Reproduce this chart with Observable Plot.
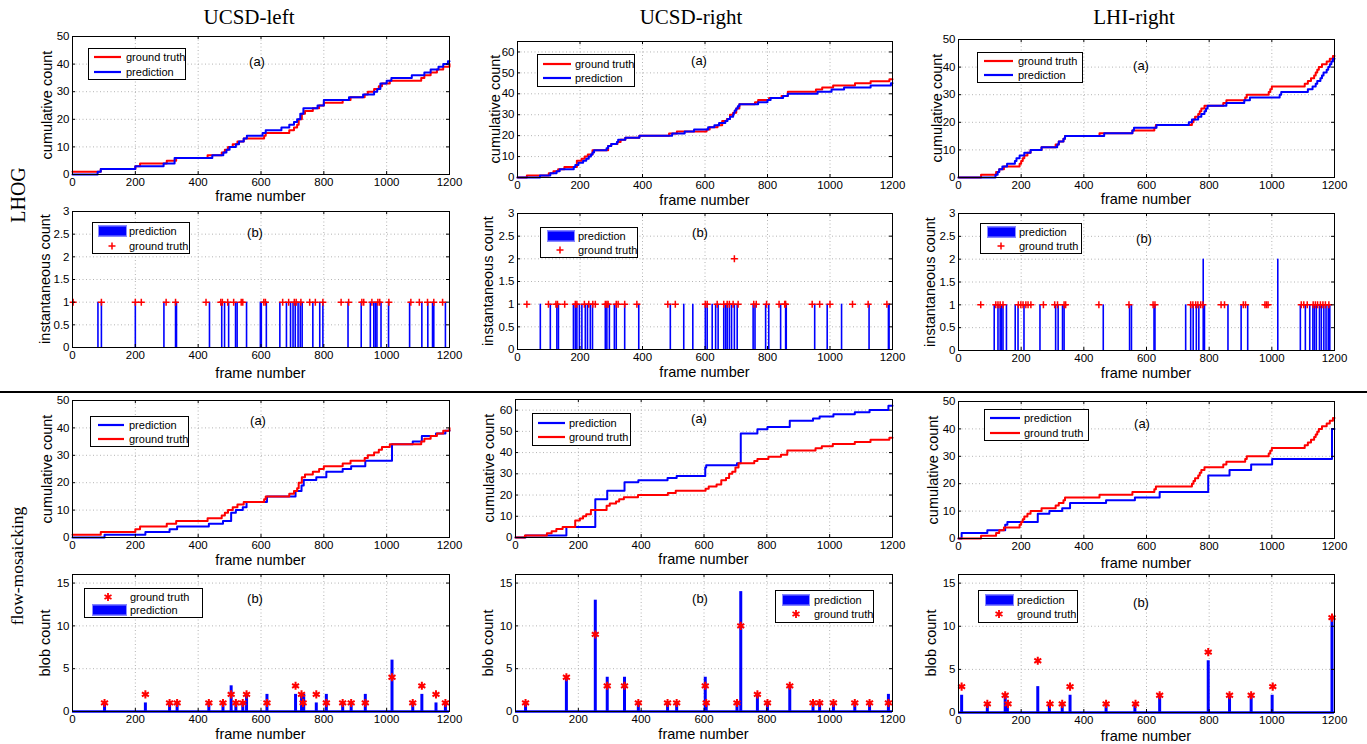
<!DOCTYPE html>
<html>
<head>
<meta charset="utf-8">
<script src="https://cdn.jsdelivr.net/npm/d3@7"></script>
<script src="https://cdn.jsdelivr.net/npm/@observablehq/plot@0.6"></script>
<style>
  html, body { margin: 0; padding: 0; background: #fff; }
  #fig { position: relative; width: 1367px; height: 744px; overflow: hidden;
         font-family: "Liberation Sans", Arial, sans-serif; color: #000; }
  .t { position: absolute; white-space: nowrap; line-height: 1; }
  .title { font-family: "Liberation Serif", "Times New Roman", serif; font-size: 21px; transform: translate(-50%, -50%); }
  .rowlabel { font-family: "Liberation Serif", "Times New Roman", serif; font-size: 20px; transform: translate(-50%, -50%) rotate(-90deg); }
  .rowlabel.small { font-size: 17.5px; }
  .ylab { font-size: 14.5px; transform: translate(-50%, -50%) rotate(-90deg); }
  .xlab { font-size: 14.5px; transform: translate(-50%, -50%); }
  .tag { font-size: 13px; transform: translate(-50%, -50%); }
  .legend { position: absolute; box-sizing: border-box; border: 1px solid #000; background: #fff; font-size: 11px; }
  .legend .lt { position: absolute; white-space: nowrap; transform: translateY(-50%); line-height: 1; }
  .legend svg, .legend .bar { position: absolute; }
  .legend .bar { background: #0000ff; border: 1px solid #8c8cff; box-sizing: border-box; height: 11px; transform: translateY(-50%); }
  .divider { position: absolute; left: 0; width: 1367px; top: 391px; height: 2px; background: #000; }
</style>
</head>
<body>
<div id="fig"></div>
<script>
// ---------- axis ticks ----------
const xTicks = [0, 200, 400, 600, 800, 1000, 1200];
const cumTicks50 = [0, 10, 20, 30, 40, 50];
const cumTicks65 = [0, 10, 20, 30, 40, 50, 60];
const instTicks = [0, 0.5, 1, 1.5, 2, 2.5, 3];
const blobTicks = [0, 5, 10, 15];

// ---------- UCSD-left ----------
// cumulative ground truth (step points: frame, count)
const ucsdLeftTruthX = [0,90,200,215,300,330,430,475,485,495,510,525,545,610,615,690,705,715,720,730,740,765,785,800,860,885,930,940,960,975,985,1010,1110,1120,1140,1160,1180,1200];
const ucsdLeftTruthY = [1,2,3,4,5,6,7,8,9,10,11,12,13,14,15,16,17,18,20,22,23,24,25,26,27,28,29,30,31,32,33,34,35,36,37,38,39,40];
// cumulative LHOG prediction
const ucsdLeftLhogX = [0,80,90,200,290,325,445,480,490,500,520,530,545,555,605,615,665,690,705,715,725,735,780,800,880,925,960,970,980,1000,1015,1080,1120,1140,1165,1180,1195,1200];
const ucsdLeftLhogY = [0,1,2,3,4,6,7,8,9,10,11,12,13,14,15,16,17,18,19,20,22,24,25,27,28,29,30,31,33,34,35,36,37,38,39,40,41,41];
// instantaneous LHOG prediction
const ucsdLeftInstPredX = [81,92,200,291,328,331,436,475,484,497,519,524,554,598,601,617,660,681,694,702,709,718,725,731,765,787,797,877,919,948,959,964,969,982,1006,1073,1112,1131,1146,1150,1187];
const ucsdLeftInstPredY = [1,1,1,1,1,1,1,1,1,1,1,1,1,1,1,1,1,1,1,1,1,1,1,1,1,1,1,1,1,1,1,1,1,1,1,1,1,1,1,1,1];
// instantaneous ground truth
const ucsdLeftInstTruthX = [2,92,200,219,298,328,425,472,477,494,513,537,542,609,614,669,688,706,712,727,755,773,797,855,879,921,927,953,972,978,1007,1077,1104,1130,1150,1178];
const ucsdLeftInstTruthY = [1,1,1,1,1,1,1,1,1,1,1,1,1,1,1,1,1,1,1,1,1,1,1,1,1,1,1,1,1,1,1,1,1,1,1,1];
// flow-mosaicking blob counts
const ucsdLeftBlobPredX = [102,232,309,333,434,479,505,520,542,554,619,710,729,736,776,808,860,887,932,1017,1083,1112,1157,1187];
const ucsdLeftBlobPred  = [1,1,1,1,1,1,3,1,1,2,2,2,2,2,1,2,1,1,2,6,1,2,1,1];
const ucsdLeftBlobTruthX = [102,232,309,333,434,479,505,520,542,554,619,710,729,734,776,808,860,887,932,1017,1083,1112,1157,1187];
const ucsdLeftBlobTruth  = [1,2,1,1,1,1,2,1,1,2,1,3,2,1,2,1,1,1,1,4,1,3,2,1];

// ---------- UCSD-right ----------
const ucsdRightTruthX = [0,30,100,115,130,150,190,205,215,225,240,290,300,320,330,345,390,485,510,605,615,640,655,670,680,690,700,710,760,770,805,845,865,955,975,1010,1080,1130,1190,1200];
const ucsdRightTruthY = [0,1,2,3,4,5,8,9,10,11,13,15,16,17,18,19,20,21,22,23,24,25,27,28,30,31,33,35,36,37,38,39,41,42,43,44,45,46,47,47];
const ucsdRightLhogX = [0,72,105,125,135,180,185,195,210,220,228,235,240,245,285,290,300,318,322,345,390,495,535,565,610,630,645,665,672,680,690,692,695,700,705,710,770,800,810,850,865,960,1005,1045,1130,1195,1200];
const ucsdRightLhogY = [0,1,2,3,4,5,6,7,8,9,10,11,12,13,14,15,16,17,18,19,20,21,22,23,24,25,26,27,28,29,30,31,32,33,34,35,36,37,38,39,40,41,42,43,44,45,45];
const ucsdRightInstPredX = [73,105,126,131,179,185,190,198,206,217,224,233,240,281,286,294,310,316,343,388,489,532,561,601,607,623,634,642,660,666,671,678,685,694,703,754,760,794,804,842,858,860,951,991,1037,1125,1187,1189];
const ucsdRightInstPredY = [1,1,1,1,1,1,1,1,1,1,1,1,1,1,1,1,1,1,1,1,1,1,1,1,1,1,1,1,1,1,1,1,1,1,1,1,1,1,1,1,1,1,1,1,1,1,1,1];
const ucsdRightInstTruthX = [30,99,123,128,151,185,190,214,228,241,249,281,286,290,316,322,343,382,481,505,601,607,639,660,671,678,690,694,706,756,764,797,837,855,858,943,967,1000,1072,1122,1182];
const ucsdRightInstTruthY = [1,1,1,1,1,1,1,1,1,1,1,1,1,1,1,1,1,1,1,1,1,1,1,1,1,1,1,2,1,1,1,1,1,1,1,1,1,1,1,1,1];
const ucsdRightBlobPredX = [32,162,254,292,347,391,484,513,604,607,705,717,770,802,873,947,968,1012,1080,1127,1187];
const ucsdRightBlobPred  = [1,4,13,4,4,1,1,1,4,1,1,14,2,1,3,1,1,1,1,1,2];
const ucsdRightBlobTruthX = [32,162,254,292,347,391,484,513,604,607,705,717,770,802,873,947,968,1012,1080,1127,1187];
const ucsdRightBlobTruth  = [1,4,9,3,3,1,1,1,3,1,1,10,2,1,3,1,1,1,1,1,1];

// ---------- LHI-right ----------
const lhiRightTruthX = [0,72,120,130,145,195,200,205,210,220,230,265,310,320,335,340,450,555,625,630,745,750,755,765,770,775,785,845,855,915,920,990,995,1000,1105,1115,1125,1135,1140,1145,1150,1160,1175,1185,1195,1200];
const lhiRightTruthY = [0,1,2,3,4,5,6,7,8,9,10,11,12,13,14,15,16,17,18,19,20,21,22,23,24,25,26,27,28,29,30,31,32,33,34,35,36,37,38,39,40,41,42,43,44,44];
const lhiRightLhogX = [0,118,125,130,140,155,180,185,195,210,230,265,315,320,335,340,465,555,560,632,735,745,765,775,785,790,795,855,912,930,1025,1030,1115,1130,1140,1145,1155,1160,1165,1175,1180,1185,1190,1195,1200];
const lhiRightLhogY = [0,1,2,3,4,5,6,7,8,9,10,11,12,13,14,15,16,17,18,19,20,21,22,23,24,25,26,27,28,29,30,31,32,33,34,35,36,37,38,39,40,41,42,43,43];
const lhiRightInstPredX = [114,126,133,137,142,153,181,190,209,260,310,318,332,337,462,546,552,624,627,725,741,749,759,767,781,785,860,902,923,1019,1091,1107,1121,1131,1136,1142,1152,1158,1166,1173,1180,1185];
const lhiRightInstPredY = [1,1,1,1,1,1,1,1,1,1,1,1,1,1,1,1,1,1,1,1,1,1,1,1,2,1,1,1,1,2,1,1,1,1,1,1,1,1,1,1,1,1];
const lhiRightInstTruthX = [71,119,126,133,142,191,199,206,215,222,231,271,307,316,337,342,448,544,621,627,741,748,757,764,773,780,838,849,909,916,978,983,988,1094,1102,1113,1132,1139,1146,1155,1163,1171,1182];
const lhiRightInstTruthY = [1,1,1,1,1,1,1,1,1,1,1,1,1,1,1,1,1,1,1,1,1,1,1,1,1,1,1,1,1,1,1,1,1,1,1,1,1,1,1,1,1,1,1];
const lhiRightBlobPredX = [10,92,149,156,253,290,331,356,471,563,642,797,865,934,1001,1192];
const lhiRightBlobPred  = [2,1,2,1,3,1,1,2,1,1,2,6,2,2,2,11];
const lhiRightBlobTruthX = [10,92,149,158,253,292,331,356,471,565,642,797,865,934,1003,1192];
const lhiRightBlobTruth  = [3,1,2,1,6,1,1,3,1,1,2,7,2,2,3,11];

// ---------- helpers ----------
const BLUE = "#0000ff", RED = "#ff0000";
const fmt = d => String(d);
const pairs = (xs, ys) => xs.map((x, i) => ({x, y: ys[i]}));
// running total of blob counts, as a step series over the whole clip
function runningTotal(xs, counts) {
  const c = Array.from(d3.cumsum(counts));
  return [{x: 0, y: 0}, ...xs.map((x, i) => ({x, y: c[i]})), {x: 1200, y: c[c.length - 1]}];
}

const fig = document.getElementById("fig");
function text(cls, x, y, str) {
  const d = document.createElement("div");
  d.className = "t " + cls;
  d.style.left = x + "px";
  d.style.top = y + "px";
  d.textContent = str;
  fig.appendChild(d);
}

function panel(p) {
  const [l, t, r, b] = p.frame;
  const w = r - l, h = b - t;
  const m = {left: 40, right: 26, top: 6, bottom: 22};
  const inner = (arr, max) => arr.filter(v => v > 0 && v < max);
  const grid = {stroke: "#b4b4b4", strokeDasharray: "1,2.5", strokeWidth: 1};
  const chart = Plot.plot({
    width: w + m.left + m.right,
    height: h + m.top + m.bottom,
    marginLeft: m.left, marginRight: m.right, marginTop: m.top, marginBottom: m.bottom,
    style: {fontFamily: "Liberation Sans, Arial, sans-serif", fontSize: "11.5px", color: "#000", background: "none", overflow: "visible"},
    x: {domain: [0, 1200]},
    y: {domain: [0, p.yMax]},
    marks: [
      Plot.ruleX(inner(xTicks, 1200), grid),
      Plot.ruleY(inner(p.yTicks, p.yMax), grid),
      ...p.marks,
      // inward tick marks on all four sides
      Plot.ruleX(xTicks, {stroke: "#000", insetTop: h - 3}),
      Plot.ruleX(xTicks, {stroke: "#000", insetBottom: h - 3}),
      Plot.ruleY(p.yTicks, {stroke: "#000", insetLeft: w - 3}),
      Plot.ruleY(p.yTicks, {stroke: "#000", insetRight: w - 3}),
      Plot.frame({stroke: "#000"}),
      Plot.axisX(xTicks, {anchor: "bottom", tickSize: 0, tickPadding: 3, tickFormat: fmt, label: null}),
      Plot.axisY(p.yTicks, {anchor: "left", tickSize: 0, tickPadding: 3, tickFormat: fmt, label: null})
    ]
  });
  const holder = document.createElement("div");
  holder.style.cssText = `position:absolute;left:${l - m.left}px;top:${t - m.top}px;`;
  holder.appendChild(chart);
  fig.appendChild(holder);

  const cx = (l + r) / 2, cy = (t + b) / 2;
  text("ylab", p.ylabX, cy, p.ylab);
  text("xlab", cx, p.xlabY, "frame number");
  text("tag", p.tag[0], p.tag[1], p.tag[2]);
  legend(p.legend);
}

function legend(L) {
  const [x, y, w, h] = L.box;
  const box = document.createElement("div");
  box.className = "legend";
  box.style.cssText = `left:${x}px;top:${y}px;width:${w}px;height:${h}px;`;
  L.items.forEach((it, i) => {
    const cy = h * (i === 0 ? 0.29 : 0.74) - 1;
    if (it.kind === "line") {
      const s = document.createElementNS("http://www.w3.org/2000/svg", "svg");
      s.setAttribute("width", L.s1 - L.s0); s.setAttribute("height", 6);
      s.style.left = L.s0 + "px"; s.style.top = (cy - 3) + "px";
      s.innerHTML = `<line x1="0" x2="${L.s1 - L.s0}" y1="3" y2="3" stroke="${it.color}" stroke-width="2.2"/>`;
      box.appendChild(s);
    } else if (it.kind === "bar") {
      const d = document.createElement("div");
      d.className = "bar";
      d.style.left = L.s0 + "px"; d.style.top = cy + "px"; d.style.width = (L.s1 - L.s0) + "px";
      box.appendChild(d);
    } else {
      const s = document.createElementNS("http://www.w3.org/2000/svg", "svg");
      s.setAttribute("width", 12); s.setAttribute("height", 12);
      s.style.left = (L.m - 6) + "px"; s.style.top = (cy - 6) + "px";
      const path = it.kind === "plus"
        ? "M6,2.5V9.5M2.5,6H9.5"
        : "M6,2V10M2.5,4L9.5,8M2.5,8L9.5,4";
      s.innerHTML = `<path d="${path}" stroke="${RED}" stroke-width="${it.kind === "plus" ? 1.5 : 1.8}" fill="none"/>`;
      box.appendChild(s);
    }
    const tx = document.createElement("div");
    tx.className = "lt";
    tx.style.left = L.tx + "px"; tx.style.top = cy + "px";
    tx.textContent = it.label;
    box.appendChild(tx);
  });
  fig.appendChild(box);
}

// ---------- mark builders ----------
const cumMarks = (truthX, truthY, predX, predY) => [
  Plot.line(pairs(truthX, truthY), {x: "x", y: "y", curve: "step-after", stroke: RED, strokeWidth: 2}),
  Plot.line(pairs(predX, predY), {x: "x", y: "y", curve: "step-after", stroke: BLUE, strokeWidth: 2})
];
const instMarks = (predX, predY, truthX, truthY) => [
  Plot.ruleX(pairs(predX, predY), {x: "x", y1: 0, y2: "y", stroke: BLUE, strokeWidth: 1.6}),
  Plot.dot(pairs(truthX, truthY), {x: "x", y: "y", symbol: "plus", r: 2.4, stroke: RED, strokeWidth: 1.5})
];
const flowMarks = (blobX, blob, truthX, truthY) => [
  Plot.line(runningTotal(blobX, blob), {x: "x", y: "y", curve: "step-after", stroke: BLUE, strokeWidth: 2}),
  Plot.line(pairs(truthX, truthY), {x: "x", y: "y", curve: "step-after", stroke: RED, strokeWidth: 2})
];
const blobMarks = (predX, pred, truthX, truth) => [
  Plot.ruleY([0], {stroke: BLUE, strokeWidth: 2.5}),
  Plot.ruleX(pairs(predX, pred), {x: "x", y1: 0, y2: "y", stroke: BLUE, strokeWidth: 3}),
  Plot.dot(pairs(truthX, truth), {x: "x", y: "y", symbol: "asterisk", r: 3.8, stroke: RED, strokeWidth: 2})
];

const gtLine = {kind: "line", color: RED, label: "ground truth"};
const prLine = {kind: "line", color: BLUE, label: "prediction"};
const prBar = {kind: "bar", label: "prediction"};
const gtPlus = {kind: "plus", label: "ground truth"};
const gtStar = {kind: "star", label: "ground truth"};

// ---------- titles ----------
text("title", 249, 17, "UCSD-left");
text("title", 691, 17, "UCSD-right");
text("title", 1134, 17, "LHI-right");
text("rowlabel", 18, 195, "LHOG");
text("rowlabel small", 18, 566, "flow-mosaicking");
const div = document.createElement("div");
div.className = "divider";
fig.appendChild(div);

// ---------- LHOG: cumulative ----------
panel({frame: [72, 36, 449, 174], yMax: 50, yTicks: cumTicks50, ylab: "cumulative count", ylabX: 47, xlabY: 196,
  tag: [257, 61, "(a)"], marks: cumMarks(ucsdLeftTruthX, ucsdLeftTruthY, ucsdLeftLhogX, ucsdLeftLhogY),
  legend: {box: [88, 48, 98, 32], s0: 5, s1: 32, tx: 37, items: [gtLine, prLine]}});
panel({frame: [517, 41, 892, 177], yMax: 65, yTicks: cumTicks65, ylab: "cumulative count", ylabX: 495, xlabY: 200,
  tag: [699, 60, "(a)"], marks: cumMarks(ucsdRightTruthX, ucsdRightTruthY, ucsdRightLhogX, ucsdRightLhogY),
  legend: {box: [537, 54, 98, 33], s0: 5, s1: 33, tx: 37, items: [gtLine, prLine]}});
panel({frame: [958, 39, 1334, 177], yMax: 50, yTicks: cumTicks50, ylab: "cumulative count", ylabX: 937, xlabY: 199,
  tag: [1141, 65, "(a)"], marks: cumMarks(lhiRightTruthX, lhiRightTruthY, lhiRightLhogX, lhiRightLhogY),
  legend: {box: [977, 52, 106, 31], s0: 6, s1: 35, tx: 40, items: [gtLine, prLine]}});

// ---------- LHOG: instantaneous ----------
panel({frame: [72, 211, 449, 347], yMax: 3, yTicks: instTicks, ylab: "instantaneous count", ylabX: 45, xlabY: 373,
  tag: [255, 232, "(b)"], marks: instMarks(ucsdLeftInstPredX, ucsdLeftInstPredY, ucsdLeftInstTruthX, ucsdLeftInstTruthY),
  legend: {box: [92, 222, 98, 32], s0: 5, s1: 34, tx: 36, m: 19, items: [prBar, gtPlus]}});
panel({frame: [517, 213, 892, 349], yMax: 3, yTicks: instTicks, ylab: "instantaneous count", ylabX: 488, xlabY: 372,
  tag: [700, 232, "(b)"], marks: instMarks(ucsdRightInstPredX, ucsdRightInstPredY, ucsdRightInstTruthX, ucsdRightInstTruthY),
  legend: {box: [540, 227, 98, 31], s0: 6, s1: 34, tx: 37, m: 19, items: [prBar, gtPlus]}});
panel({frame: [958, 213, 1334, 350], yMax: 3, yTicks: instTicks, ylab: "instantaneous count", ylabX: 930, xlabY: 373,
  tag: [1144, 238, "(b)"], marks: instMarks(lhiRightInstPredX, lhiRightInstPredY, lhiRightInstTruthX, lhiRightInstTruthY),
  legend: {box: [980, 223, 102, 31], s0: 6, s1: 35, tx: 38, m: 20, items: [prBar, gtPlus]}});

// ---------- flow-mosaicking: cumulative ----------
panel({frame: [72, 400, 449, 537], yMax: 50, yTicks: cumTicks50, ylab: "cumulative count", ylabX: 47, xlabY: 560,
  tag: [258, 420, "(a)"], marks: flowMarks(ucsdLeftBlobPredX, ucsdLeftBlobPred, ucsdLeftTruthX, ucsdLeftTruthY),
  legend: {box: [90, 416, 99, 31], s0: 7, s1: 33, tx: 38, items: [prLine, gtLine]}});
panel({frame: [515, 399, 892, 537], yMax: 65, yTicks: cumTicks65, ylab: "cumulative count", ylabX: 489, xlabY: 559,
  tag: [699, 418, "(a)"], marks: flowMarks(ucsdRightBlobPredX, ucsdRightBlobPred, ucsdRightTruthX, ucsdRightTruthY),
  legend: {box: [532, 413, 99, 33], s0: 5, s1: 32, tx: 36, items: [prLine, gtLine]}});
panel({frame: [958, 401, 1334, 538], yMax: 50, yTicks: cumTicks50, ylab: "cumulative count", ylabX: 933, xlabY: 563,
  tag: [1142, 423, "(a)"], marks: flowMarks(lhiRightBlobPredX, lhiRightBlobPred, lhiRightTruthX, lhiRightTruthY),
  legend: {box: [984, 409, 105, 32], s0: 5, s1: 35, tx: 39, items: [prLine, gtLine]}});

// ---------- flow-mosaicking: blob counts ----------
panel({frame: [72, 574, 449, 711], yMax: 16, yTicks: blobTicks, ylab: "blob count", ylabX: 45, xlabY: 734,
  tag: [255, 598, "(b)"], marks: blobMarks(ucsdLeftBlobPredX, ucsdLeftBlobPred, ucsdLeftBlobTruthX, ucsdLeftBlobTruth),
  legend: {box: [84, 588, 119, 30], s0: 7, s1: 42, tx: 45, m: 23, items: [gtStar, prBar]}});
panel({frame: [515, 574, 892, 711], yMax: 16, yTicks: blobTicks, ylab: "blob count", ylabX: 488, xlabY: 734,
  tag: [700, 598, "(b)"], marks: blobMarks(ucsdRightBlobPredX, ucsdRightBlobPred, ucsdRightBlobTruthX, ucsdRightBlobTruth),
  legend: {box: [775, 590, 99, 33], s0: 6, s1: 34, tx: 38, m: 20, items: [prBar, gtStar]}});
panel({frame: [958, 574, 1334, 712], yMax: 16, yTicks: blobTicks, ylab: "blob count", ylabX: 931, xlabY: 736,
  tag: [1141, 602, "(b)"], marks: blobMarks(lhiRightBlobPredX, lhiRightBlobPred, lhiRightBlobTruthX, lhiRightBlobTruth),
  legend: {box: [978, 590, 100, 33], s0: 6, s1: 35, tx: 38, m: 20, items: [prBar, gtStar]}});
</script>
</body>
</html>
